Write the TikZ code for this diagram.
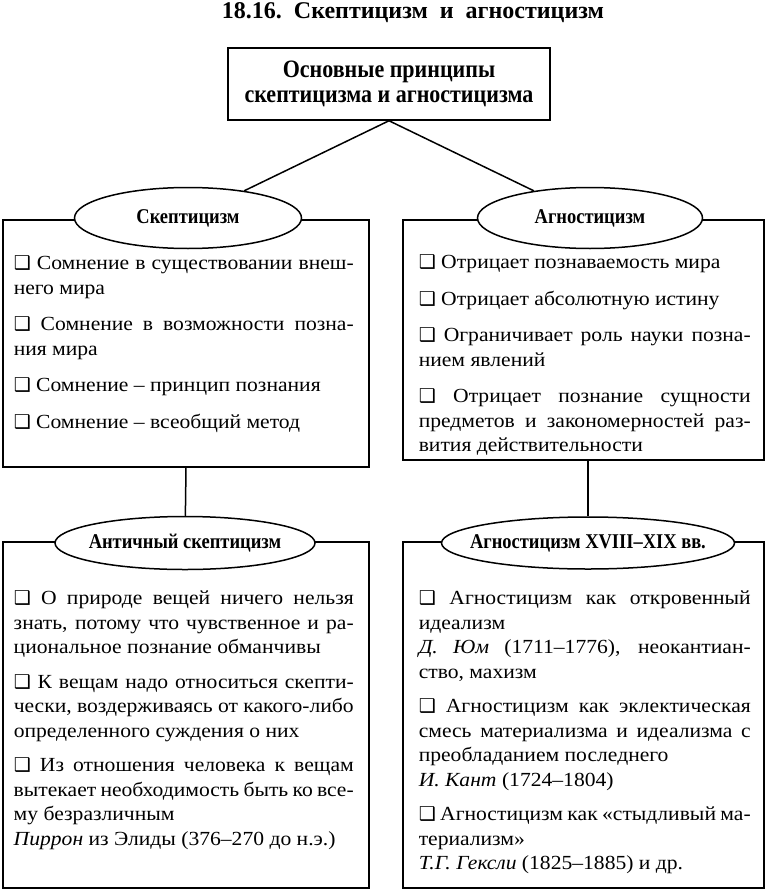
\documentclass[tikz,border=0pt]{standalone}
\usepackage{fontspec}
\setmainfont{Liberation Serif}[FakeStretch=1.08]
\newfontfamily\hd{Liberation Serif}[FakeStretch=0.88]
\newfontfamily\tf{Liberation Serif}
\newfontfamily\dv{DejaVu Sans}
\usetikzlibrary{shapes.geometric}
\newlength\tw
\setlength\tw{340pt}
\newcommand\bx{{\dv\fontsize{19}{19}\selectfont ❑}}
\newcommand\jl[1]{\makebox[\tw][s]{\strut#1}}
\newcommand\el[1]{\strut#1}
\begin{document}
\begin{tikzpicture}[x=1pt,y=-1pt,line width=1.5pt,
  box/.style={draw,rectangle,inner sep=0pt},
  oval/.style={draw,ellipse,fill=white,inner sep=0pt},
  lab/.style={inner sep=0pt,font=\hd\bfseries\fontsize{21}{24}\selectfont},
  txtL/.style={anchor=north west,inner sep=0pt,align=left,font=\fontsize{20}{24.5}\selectfont,execute at begin node={\setlength\tw{340pt}}},
  txtR/.style={anchor=north west,inner sep=0pt,align=left,font=\fontsize{20}{24.5}\selectfont,execute at begin node={\setlength\tw{332pt}}}]
\useasboundingbox[fill=white] (0,0) rectangle (768,891);

\node[inner sep=0pt,anchor=base,font=\tf\bfseries\fontsize{24}{24}\selectfont] (title) at (413,19)
  {18.16.\hspace{0.5em}Скептицизм\hspace{0.5em}и\hspace{0.5em}агностицизм};

\node[box,minimum width=322pt,minimum height=72pt,align=center,
  font=\hd\bfseries\fontsize{25}{25.5}\selectfont] (top) at (389,84)
  {Основные принципы\\скептицизма и агностицизма};

\node[box,minimum width=366pt,minimum height=247pt] (b1) at (186,343.5) {};
\node[box,minimum width=361pt,minimum height=240pt] (b2) at (583.5,340) {};
\node[box,minimum width=366pt,minimum height=346pt] (b3) at (186,715) {};
\node[box,minimum width=361pt,minimum height=346pt] (b4) at (583.5,715) {};

\node[oval,minimum width=227pt,minimum height=61pt] (e1) at (188,218) {};
\node[oval,minimum width=225pt,minimum height=61pt] (e2) at (590,218) {};
\node[oval,minimum width=260pt,minimum height=53pt] (e3) at (185,543) {};
\node[oval,minimum width=293pt,minimum height=52pt] (e4) at (588,543) {};

\node[lab] (e1t) at (e1) {Скептицизм};
\node[lab] (e2t) at (e2) {Агностицизм};
\node[lab] (e3t) at (e3) {Античный скептицизм};
\node[lab] (e4t) at (e4) {Агностицизм XVIII–XIX вв.};

\draw (top.south) -- (e1);
\draw (top.south) -- (e2);
\draw (b1.south) -- (e3);
\draw (e4 |- b2.south) -- (e4);

\node[txtL] (t1) at (13,252) {%
\jl{\bx\ Сомнение в существовании внеш-}\\
\el{него мира}\\[12pt]
\jl{\bx\ Сомнение в возможности позна-}\\
\el{ния мира}\\[12pt]
\el{\bx\ Сомнение – принцип познания}\\[12pt]
\el{\bx\ Сомнение – всеобщий метод}};

\node[txtR] (t2) at (418,251) {%
\el{\bx\ Отрицает познаваемость мира}\\[12pt]
\el{\bx\ Отрицает абсолютную истину}\\[12pt]
\jl{\bx\ Ограничивает роль науки позна-}\\
\el{нием явлений}\\[12pt]
\jl{\bx\ Отрицает познание сущности}\\
\jl{предметов и закономерностей раз-}\\
\el{вития действительности}};

\node[txtL] (t3) at (13,587) {%
\jl{\bx\ О природе вещей ничего нельзя}\\
\jl{знать, потому что чувственное и ра-}\\
\el{циональное познание обманчивы}\\[10pt]
\jl{\bx\ К вещам надо относиться скепти-}\\
\jl{чески, воздерживаясь от какого-либо}\\
\el{определенного суждения о них}\\[10pt]
\jl{\bx\ Из отношения человека к вещам}\\
\jl{вытекает необходимость быть ко все-}\\
\el{му безразличным}\\
\el{\textit{Пиррон} из Элиды (376–270 до н.э.)}};

\node[txtR] (t4) at (418,587) {%
\jl{\bx\ Агностицизм как откровенный}\\
\el{идеализм}\\
\jl{\textit{Д. Юм} (1711–1776), неокантиан-}\\
\el{ство, махизм}\\[10pt]
\jl{\bx\ Агностицизм как эклектическая}\\
\jl{смесь материализма и идеализма с}\\
\el{преобладанием последнего}\\
\el{\textit{И. Кант} (1724–1804)}\\[10pt]
\jl{\bx\ Агностицизм как «стыдливый ма-}\\
\el{териализм»}\\
\el{\textit{Т.Г. Гексли} (1825–1885) и др.}};
\end{tikzpicture}
\end{document}
